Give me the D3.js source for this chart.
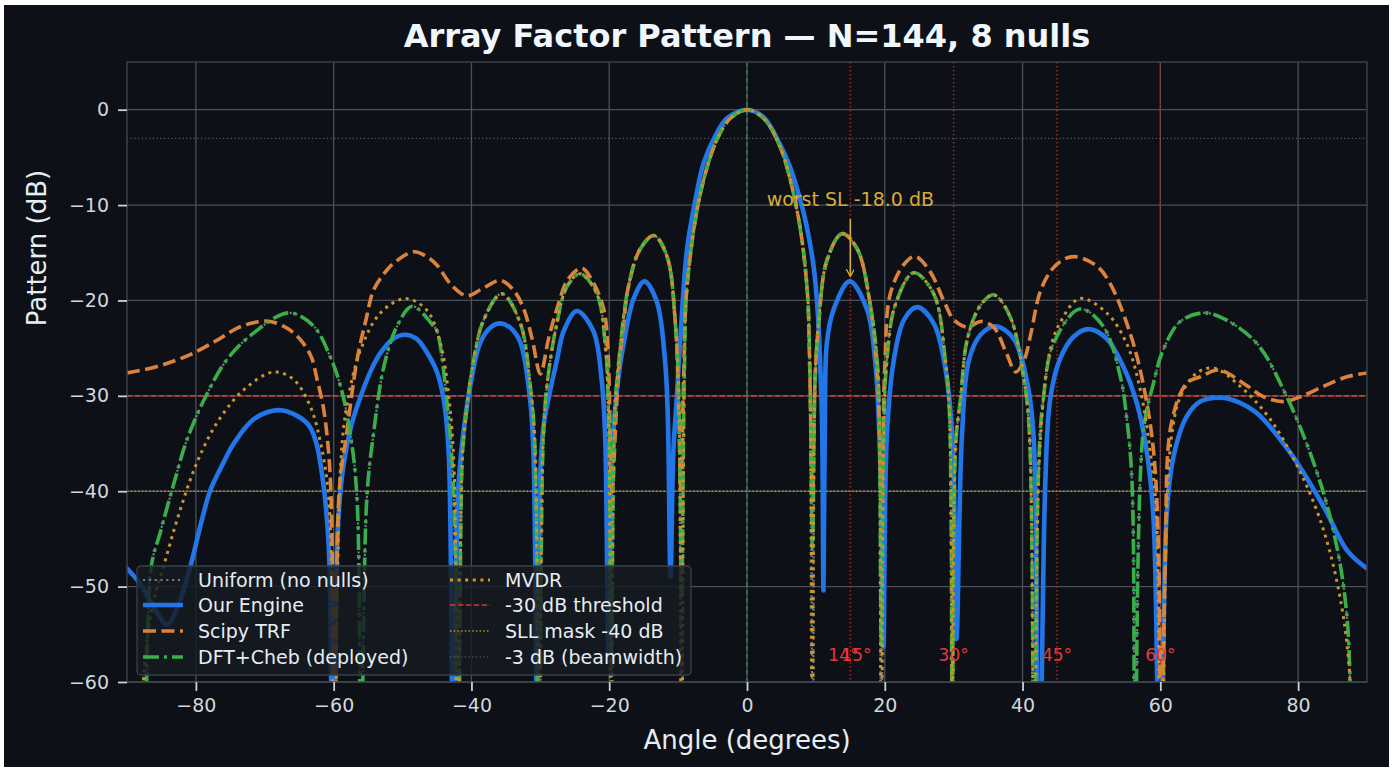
<!DOCTYPE html>
<html>
<head>
<meta charset="utf-8">
<script src="https://cdn.jsdelivr.net/npm/d3@7"></script>
<style>
  html, body { margin: 0; padding: 0; background: #ffffff; }
  svg { display: block; font-family: "DejaVu Sans", sans-serif; }
</style>
</head>
<body>
<div id="chart"></div>
<script>
// ---- data (angle in degrees, pattern in dB) ----
var xTicks = [-80, -60, -40, -20, 0, 20, 40, 60, 80];
var yTicks = [-60, -50, -40, -30, -20, -10, 0];

var uniformPts = [[-90,-66],[-87.8,-80],[-86.5,-48],[-85.2,-44.4],[-83.2,-39.2],[-81.3,-34.6],[-78.6,-30.1],[-75.5,-26.2],[-71.6,-23.4],[-66.5,-21.3],[-62.9,-22.7],[-60.5,-25.9],[-59,-29],[-57.6,-33.9],[-56.6,-40.9],[-56.1,-80],[-55.2,-40.9],[-54.2,-33.9],[-52.7,-26.9],[-50.8,-22.7],[-48.6,-20.6],[-45.5,-22.7],[-45,-23.2],[-43.6,-30.3],[-42.6,-40],[-42,-80],[-41.4,-38],[-41.1,-34.2],[-39.7,-26.3],[-38.2,-22],[-35.6,-19.3],[-32.9,-22.4],[-31.5,-28.7],[-30.8,-35],[-30.2,-80],[-29.6,-35],[-29,-28.7],[-27.6,-22.4],[-26.1,-18.5],[-24.2,-17.2],[-21.8,-19.3],[-20.6,-24.4],[-20.1,-32],[-19.7,-80],[-19.2,-32],[-18.6,-26.3],[-17.2,-18.5],[-15.5,-14.6],[-13.5,-13.2],[-11.6,-15.4],[-10.4,-22.4],[-9.9,-30],[-9.5,-80],[-9.1,-28],[-8.7,-18.5],[-6.8,-8.9],[-4.4,-3.2],[-2.4,-0.9],[0,0],[2.4,-0.9],[4.8,-3.9],[7.3,-10.7],[8.7,-18.5],[9.1,-26],[9.6,-80],[9.9,-28],[10.4,-22.4],[11.6,-15.8],[13.8,-13],[16,-14.6],[17.9,-20.5],[18.9,-26.3],[19.2,-32],[19.5,-80],[19.9,-32],[20.3,-26.3],[21.5,-20.5],[24.2,-17.1],[27.1,-19.3],[28.8,-26.3],[29.4,-32],[29.8,-80],[30.3,-35],[31,-30.3],[32,-24],[33.9,-20.5],[35.8,-19.4],[38.2,-21.7],[40.2,-28.3],[41,-34],[41.7,-80],[42.3,-38],[43,-30.4],[44.5,-24.5],[48.3,-20.9],[51.7,-22.7],[54.2,-28],[55.1,-32.2],[55.9,-39.2],[56.3,-80],[57.5,-33.9],[59,-28.7],[60.4,-25.2],[62.9,-22.2],[66.3,-21.3],[69.2,-21.9],[74,-24.5],[77.9,-29.4],[82.3,-37.1],[85.2,-44.4],[87.1,-53.2],[88.3,-80],[90,-66]];

var enginePts = [[-90,-48.1],[-88,-49.8],[-86,-52.3],[-84.2,-54],[-82.6,-52],[-80.8,-47.9],[-79.3,-43.5],[-77.9,-39.9],[-76,-37],[-74.5,-35],[-71.5,-32.4],[-68,-31.5],[-65.3,-32.1],[-63.5,-33.2],[-62.5,-35],[-61.5,-39.2],[-60.7,-46],[-60.1,-80],[-59.4,-44],[-58.6,-37.4],[-57.4,-33],[-56.1,-30.1],[-54.5,-27.2],[-53.2,-25.5],[-51.5,-24.1],[-49.8,-23.6],[-48,-24],[-46.5,-25.4],[-45,-27.5],[-44,-30.5],[-43.3,-36],[-42.6,-80],[-42,-41],[-41.5,-36],[-40.2,-29.1],[-38.7,-24.4],[-37.2,-22.8],[-35.8,-22.4],[-34.3,-22.9],[-32.9,-24.4],[-31.5,-30.3],[-31,-36],[-30.5,-62],[-30,-38],[-29.5,-33],[-28.5,-29.2],[-27.6,-26.3],[-26.6,-23.2],[-24.7,-21.1],[-22.3,-23.2],[-21.1,-28.3],[-20.6,-34],[-20.1,-57],[-19.6,-36],[-18.9,-29.5],[-17.9,-24.5],[-16.4,-19.7],[-14.9,-18],[-13.1,-20.1],[-11.9,-26.3],[-11.5,-32],[-11.1,-49],[-10.7,-36],[-10.2,-30.3],[-9.5,-22],[-8.7,-14.6],[-7.5,-9.5],[-6.3,-5.6],[-4.5,-2.6],[-2.9,-0.9],[0,0],[2.4,-0.8],[4.8,-3.65],[6.2,-5.9],[7.3,-8.35],[8.6,-12],[9.7,-16.6],[10.3,-21.5],[10.6,-26.3],[10.9,-33],[11.1,-50.4],[11.3,-33],[11.6,-24.4],[12.6,-20.9],[14.9,-18],[17.4,-20.9],[18.6,-26.3],[19.4,-38.1],[19.8,-56.3],[20.3,-34.2],[21.3,-26.3],[22.8,-22],[24.7,-20.7],[27.1,-22.4],[28.6,-26.3],[29.8,-34.2],[30.4,-55.5],[31.2,-34.2],[32.2,-26.3],[33.9,-23.6],[36.1,-22.7],[38.7,-24],[40.7,-28.7],[41.6,-34.2],[42.3,-80],[43.3,-39.2],[44,-30.4],[45.4,-26.2],[47.4,-23.8],[49.6,-23],[52.2,-24],[54.6,-26.9],[56.6,-30.8],[58,-35.7],[59,-42.7],[60,-80],[60.9,-42.7],[61.9,-36.4],[63.8,-32.2],[65.8,-30.6],[68.7,-30.2],[71.5,-30.7],[74,-31.8],[78.9,-36],[83.7,-41.6],[87.1,-46.2],[90,-48.1]];

var trfPts = [[-90,-27.6],[-86,-27],[-83,-26.3],[-80.3,-25.5],[-77,-24.2],[-74,-22.9],[-71.5,-22.3],[-69.2,-22.2],[-67.3,-22.7],[-65.8,-23.4],[-64.4,-24.5],[-63.2,-26],[-62.4,-28.3],[-61.6,-30.8],[-61,-33.9],[-60.4,-40],[-59.8,-78],[-59.2,-40],[-58.1,-33.9],[-56.6,-26.2],[-55.3,-22],[-54.2,-18.9],[-52.7,-17.2],[-51.3,-16.1],[-48.4,-14.9],[-46.5,-15.4],[-45,-16.3],[-43,-18.3],[-40.7,-19.5],[-38.5,-18.8],[-35.8,-17.9],[-33.8,-19],[-32.4,-20.9],[-31.2,-24],[-30,-27.7],[-28.8,-24],[-27.6,-20.9],[-26,-17.8],[-24,-16.6],[-22.4,-18],[-20.8,-20.9],[-20.2,-25],[-19.6,-40],[-19,-32],[-18.6,-27],[-17.9,-22.4],[-17.2,-18.5],[-15.5,-14.6],[-13.5,-13.2],[-11.6,-15.4],[-10.4,-22.4],[-10,-29],[-9.6,-40],[-9.2,-28],[-8.7,-18.5],[-6.8,-8.9],[-4.4,-3.2],[-2.4,-0.9],[0,0],[2.4,-0.9],[4.8,-3.9],[7.3,-10.7],[8.7,-18.5],[9.1,-27],[9.5,-40],[9.9,-28],[10.4,-22.4],[11.6,-15.8],[13.8,-13],[16,-14.6],[17.9,-20.5],[18.9,-27.5],[19.5,-40],[20,-27],[20.8,-19.3],[22.8,-16.2],[24.4,-15.4],[26.6,-17],[28.6,-20.1],[30,-22],[32,-22.8],[33.9,-22.2],[35.8,-22.8],[37.7,-25.6],[39,-27.5],[40.2,-26.3],[41.2,-23.5],[42.5,-19.2],[44,-17],[45.5,-15.9],[47.5,-15.4],[50.8,-16.4],[52.7,-18.2],[55.6,-23.4],[57.5,-28.7],[59,-35.7],[59.8,-47.9],[60,-78],[60.7,-47.9],[61.6,-32.9],[63.8,-28.7],[65.8,-28],[68.5,-27.3],[72.1,-28.7],[75,-30.1],[77.9,-30.6],[80.3,-30.1],[83.7,-29],[87.1,-28],[90,-27.6]];

var dftPts = [[-90,-66],[-87.8,-80],[-86.5,-48],[-85.2,-44.4],[-83.2,-39.2],[-81.3,-34.6],[-78.6,-30.1],[-75.5,-26.2],[-71.6,-23.4],[-66.5,-21.3],[-62.9,-22.7],[-60.5,-25.9],[-59,-29],[-57.6,-33.9],[-56.6,-40.9],[-56.1,-80],[-55.2,-40.9],[-54.2,-33.9],[-52.7,-26.9],[-50.8,-22.7],[-48.6,-20.6],[-45.5,-22.7],[-45,-23.2],[-43.6,-30.3],[-42.6,-40],[-42,-80],[-41.4,-38],[-41.1,-34.2],[-39.7,-26.3],[-38.2,-22],[-35.6,-19.3],[-32.9,-22.4],[-31.5,-28.7],[-30.8,-35],[-30.2,-80],[-29.6,-35],[-29,-28.7],[-27.6,-22.4],[-26.1,-18.5],[-24.2,-17.2],[-21.8,-19.3],[-20.6,-24.4],[-20.1,-32],[-19.7,-56.7],[-19.2,-32],[-18.6,-26.3],[-17.2,-18.5],[-15.5,-14.6],[-13.5,-13.2],[-11.6,-15.4],[-10.4,-22.4],[-9.9,-30],[-9.5,-50.7],[-9.1,-28],[-8.7,-18.5],[-6.8,-8.9],[-4.4,-3.2],[-2.4,-0.9],[0,0],[2.4,-0.9],[4.8,-3.9],[7.3,-10.7],[8.7,-18.5],[9.1,-26],[9.5,-46],[9.9,-28],[10.4,-22.4],[11.6,-15.8],[13.8,-13],[16,-14.6],[17.9,-20.5],[18.9,-26.3],[19.2,-32],[19.5,-56.3],[19.9,-32],[20.3,-26.3],[21.5,-20.5],[24.2,-17.1],[27.1,-19.3],[28.8,-26.3],[29.4,-32],[29.8,-80],[30.3,-35],[31,-30.3],[32,-24],[33.9,-20.5],[35.8,-19.4],[38.2,-21.7],[40.2,-28.3],[41,-34],[41.7,-80],[42.3,-38],[43,-30.4],[44.5,-24.5],[48.3,-20.9],[51.7,-22.7],[54.2,-28],[55.1,-32.2],[55.9,-39.2],[56.3,-80],[57.5,-33.9],[59,-28.7],[60.4,-25.2],[62.9,-22.2],[66.3,-21.3],[69.2,-21.9],[74,-24.5],[77.9,-29.4],[82.3,-37.1],[85.2,-44.4],[87.1,-53.2],[88.3,-80],[90,-66]];

var mvdrPts = [[-90,-62],[-88.2,-80],[-87.6,-59.8],[-86.3,-52],[-84.7,-47.9],[-82.3,-42],[-79.9,-37.1],[-77,-32.9],[-73.1,-29.4],[-68.7,-27.5],[-65.8,-28.3],[-63.4,-31.1],[-62,-34.6],[-60.7,-40.9],[-60,-80],[-59,-37.4],[-58.1,-31.1],[-56.1,-25.2],[-53.2,-21.3],[-49.6,-19.8],[-46.5,-21],[-44.5,-24.5],[-43.3,-30],[-42.5,-38],[-42.1,-80],[-41.4,-38],[-41.1,-34.2],[-39.7,-26.3],[-38.2,-22],[-35.6,-19.3],[-32.9,-22.4],[-31.5,-28.7],[-30.8,-35],[-30.2,-80],[-29.6,-35],[-29,-28.7],[-27.6,-22.4],[-26.1,-18.5],[-24.2,-17.2],[-21.8,-19.3],[-20.6,-24.4],[-20.1,-32],[-19.7,-80],[-19.2,-32],[-18.6,-26.3],[-17.2,-18.5],[-15.5,-14.6],[-13.5,-13.2],[-11.6,-15.4],[-10.4,-22.4],[-9.9,-30],[-9.5,-80],[-9.1,-28],[-8.7,-18.5],[-6.8,-8.9],[-4.4,-3.2],[-2.4,-0.9],[0,0],[2.4,-0.9],[4.8,-3.9],[7.3,-10.7],[8.7,-18.5],[9.1,-26],[9.5,-80],[9.9,-28],[10.4,-22.4],[11.6,-15.8],[13.8,-13],[16,-14.6],[17.9,-20.5],[18.9,-26.3],[19.2,-32],[19.5,-80],[19.9,-32],[20.3,-26.3],[21.5,-20.5],[24.2,-17.1],[27.1,-19.3],[28.8,-26.3],[29.4,-32],[29.8,-80],[30.3,-35],[31,-30.3],[32,-24],[33.9,-20.5],[35.8,-19.4],[38.2,-21.7],[40.2,-28.3],[41,-34],[41.7,-80],[42.5,-35.7],[44,-25.2],[45.4,-22.4],[48.3,-19.8],[52.2,-21.3],[55.1,-24.5],[57.1,-29.4],[58.5,-35.7],[59.4,-42],[60,-80],[61,-40.9],[61.7,-33.9],[62.9,-30.1],[65.3,-27.6],[67.8,-27.1],[71.6,-29],[76,-32.5],[79.9,-37.4],[83.2,-43],[85.7,-49.7],[87.4,-58.4],[87.9,-80],[90,-64]];

var nullAngles = [15, 30, 45, 60];
var nullLabelAngles = [14, 15.9, 30, 45, 60];
var nullLabels = ['14°', '15°', '30°', '45°', '60°'];

var thresholdDb = -30;
var sllMaskDb = -40;
var beamwidthDb = -3;
var worstSl = { angle: 15, db: -18.0, label: 'worst SL -18.0 dB' };

// ---- layout ----
var width = 1395, height = 771;
var plotL = 127, plotR = 1367, plotT = 62, plotB = 682;

var svg = d3.select('#chart').append('svg')
    .attr('width', width)
    .attr('height', height);

svg.append('rect').attr('x', 4).attr('y', 5).attr('width', 1385).attr('height', 762).attr('fill', '#0d1117');

var x = d3.scaleLinear().domain([-90, 90]).range([plotL, plotR]);
var y = d3.scaleLinear().domain([-60, 5]).range([plotB, plotT]);

var defs = svg.append('defs');
defs.append('clipPath').attr('id', 'plotClip')
    .append('rect').attr('x', plotL).attr('y', plotT).attr('width', plotR - plotL).attr('height', plotB - plotT);

// grid
var grid = svg.append('g');
grid.selectAll('.vg').data(xTicks).enter().append('line')
    .attr('x1', d => x(d)).attr('x2', d => x(d)).attr('y1', plotT).attr('y2', plotB)
    .attr('stroke', '#4a5058').attr('stroke-width', 1.3);
grid.selectAll('.hg').data(yTicks).enter().append('line')
    .attr('x1', plotL).attr('x2', plotR).attr('y1', d => y(d)).attr('y2', d => y(d))
    .attr('stroke', '#4a5058').attr('stroke-width', 1.3);

var plot = svg.append('g').attr('clip-path', 'url(#plotClip)');

// reference lines
plot.append('line').attr('x1', plotL).attr('x2', plotR).attr('y1', y(beamwidthDb)).attr('y2', y(beamwidthDb))
    .attr('stroke', '#8b949e').attr('stroke-width', 1).attr('stroke-dasharray', '1.2,2.5').attr('opacity', 0.7);
plot.append('line').attr('x1', plotL).attr('x2', plotR).attr('y1', y(sllMaskDb)).attr('y2', y(sllMaskDb))
    .attr('stroke', '#c9a030').attr('stroke-width', 1.3).attr('stroke-dasharray', '1.5,2.2').attr('opacity', 0.85);
plot.append('line').attr('x1', plotL).attr('x2', plotR).attr('y1', y(thresholdDb)).attr('y2', y(thresholdDb))
    .attr('stroke', '#d03a36').attr('stroke-width', 1.6).attr('stroke-dasharray', '5.5,2.4');
plot.append('line').attr('x1', x(0)).attr('x2', x(0)).attr('y1', plotT).attr('y2', plotB)
    .attr('stroke', '#3aae4a').attr('stroke-width', 1.2).attr('stroke-dasharray', '5,3').attr('opacity', 0.7);

plot.selectAll('.nullLine').data(nullAngles).enter().append('line')
    .attr('x1', d => x(d)).attr('x2', d => x(d)).attr('y1', plotT).attr('y2', plotB)
    .attr('stroke', '#c0392b').attr('stroke-width', 1.3).attr('stroke-dasharray', '1.5,2.5').attr('opacity', 0.85);

// pattern curves
var line = d3.line().x(d => x(d[0])).y(d => y(d[1])).curve(d3.curveCatmullRom.alpha(0.5));

var series = [
    { name: 'Uniform (no nulls)', pts: uniformPts, color: '#8b949e', w: 2.2, dash: '2.2,3.6', cap: 'butt', op: 0.8 },
    { name: 'Our Engine', pts: enginePts, color: '#2376ea', w: 4.6, dash: null, cap: 'round', op: 1 },
    { name: 'Scipy TRF', pts: trfPts, color: '#dc823c', w: 3.6, dash: '13,5.5', cap: 'butt', op: 1 },
    { name: 'DFT+Cheb (deployed)', pts: dftPts, color: '#3aae4a', w: 3.6, dash: '16,5,3,5', cap: 'butt', op: 1 },
    { name: 'MVDR', pts: mvdrPts, color: '#c8962a', w: 3, dash: '3,4.6', cap: 'butt', op: 1 }
];

series.forEach(s => {
    plot.append('path')
        .attr('d', line(s.pts))
        .attr('fill', 'none')
        .attr('stroke', s.color)
        .attr('stroke-width', s.w)
        .attr('stroke-dasharray', s.dash)
        .attr('stroke-linecap', s.cap)
        .attr('stroke-linejoin', 'round')
        .attr('opacity', s.op);
});

// null labels
plot.selectAll('.nullLabel').data(nullLabelAngles).enter().append('text')
    .attr('x', d => x(d)).attr('y', 661)
    .attr('text-anchor', 'middle')
    .attr('font-size', 17)
    .attr('fill', '#e5383b')
    .text((d, i) => nullLabels[i]);

// frame
svg.append('rect').attr('x', plotL).attr('y', plotT).attr('width', plotR - plotL).attr('height', plotB - plotT)
    .attr('fill', 'none').attr('stroke', '#3a4048').attr('stroke-width', 1.5);

// axes
var fmt = d => d < 0 ? '\u2212' + Math.abs(d) : '' + d;

var xAxis = svg.append('g').attr('transform', `translate(0,${plotB})`)
    .call(d3.axisBottom(x).tickValues(xTicks).tickSize(9).tickPadding(8).tickFormat(fmt));
var yAxis = svg.append('g').attr('transform', `translate(${plotL},0)`)
    .call(d3.axisLeft(y).tickValues(yTicks).tickSize(9).tickPadding(9).tickFormat(fmt));

[xAxis, yAxis].forEach(a => {
    a.select('.domain').remove();
    a.selectAll('.tick line').attr('stroke', '#c9d1d9').attr('stroke-width', 1.8);
    a.selectAll('.tick text').attr('fill', '#d0d7de').attr('font-size', 19).attr('font-family', '"DejaVu Sans", sans-serif');
});

// annotation
defs.append('marker').attr('id', 'arrowHead')
    .attr('viewBox', '0 0 10 10').attr('refX', 9).attr('refY', 5)
    .attr('markerWidth', 8).attr('markerHeight', 8).attr('markerUnits', 'userSpaceOnUse').attr('orient', 'auto')
    .append('path').attr('d', 'M0,0 L9,5 L0,10').attr('fill', 'none').attr('stroke', '#d9a93a').attr('stroke-width', 1.6);

svg.append('line')
    .attr('x1', x(worstSl.angle)).attr('x2', x(worstSl.angle))
    .attr('y1', 219).attr('y2', y(worstSl.db) - 5)
    .attr('stroke', '#d9a93a').attr('stroke-width', 1.6)
    .attr('marker-end', 'url(#arrowHead)');
svg.append('text')
    .attr('x', x(worstSl.angle)).attr('y', 206)
    .attr('text-anchor', 'middle').attr('font-size', 19).attr('fill', '#d9a93a')
    .text(worstSl.label);

// titles
svg.append('text').attr('x', (plotL + plotR) / 2).attr('y', 47)
    .attr('text-anchor', 'middle').attr('font-size', 32).attr('font-weight', 'bold').attr('fill', '#f0f6fc')
    .text('Array Factor Pattern — N=144, 8 nulls');
svg.append('text').attr('x', (plotL + plotR) / 2).attr('y', 749)
    .attr('text-anchor', 'middle').attr('font-size', 26).attr('fill', '#e6edf3')
    .text('Angle (degrees)');
svg.append('text').attr('transform', 'translate(46,248)rotate(-90)')
    .attr('text-anchor', 'middle').attr('font-size', 26).attr('fill', '#e6edf3')
    .text('Pattern (dB)');

// legend
var legendItems = series.map(s => ({ name: s.name, color: s.color, w: s.w, dash: s.dash, op: s.op })).concat([
    { name: '-30 dB threshold', color: '#d03a36', w: 1.6, dash: '5.5,2.4', op: 1 },
    { name: 'SLL mask -40 dB', color: '#c9a030', w: 1.3, dash: '1.5,2.2', op: 0.85 },
    { name: '-3 dB (beamwidth)', color: '#8b949e', w: 1, dash: '1.2,2.5', op: 0.7 }
]);

var legend = svg.append('g');
legend.append('rect').attr('x', 137).attr('y', 566).attr('width', 554).attr('height', 109).attr('rx', 4)
    .attr('fill', '#161b22').attr('fill-opacity', 0.82).attr('stroke', '#3a4048').attr('stroke-width', 1.3);

var rowY = [580, 605, 631, 657];
var entries = legend.selectAll('.entry').data(legendItems).enter().append('g')
    .attr('transform', (d, i) => `translate(${i < 4 ? 143 : 450},${rowY[i % 4]})`);
entries.append('line').attr('x1', 0).attr('x2', 40).attr('y1', 0).attr('y2', 0)
    .attr('stroke', d => d.color).attr('stroke-width', d => d.w).attr('stroke-dasharray', d => d.dash).attr('opacity', d => d.op);
entries.append('text').attr('x', 55).attr('y', 7)
    .attr('font-size', 19).attr('fill', '#e6edf3')
    .text(d => d.name);
</script>
</body>
</html>
